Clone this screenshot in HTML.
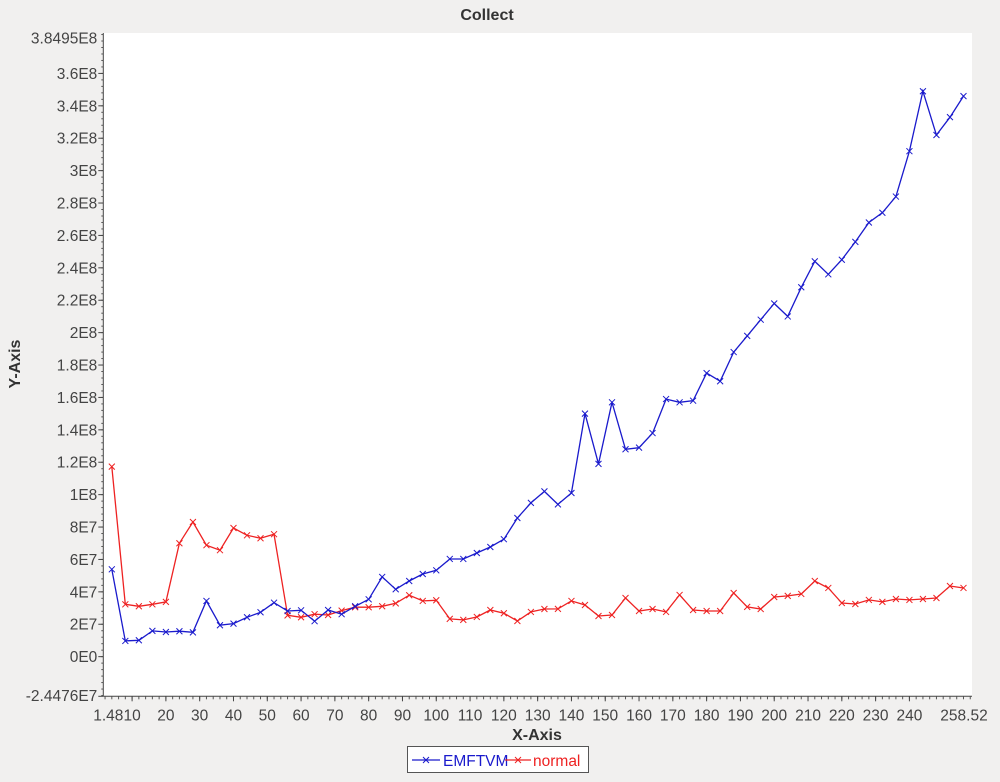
<!DOCTYPE html>
<html><head><meta charset="utf-8"><style>
body{margin:0;background:#f1f0ef;width:1000px;height:777px;overflow:hidden}
svg{font-family:"Liberation Sans","DejaVu Sans",sans-serif}
</style></head><body>
<svg id="chart" width="1000" height="777" xmlns="http://www.w3.org/2000/svg">
<rect x="0" y="0" width="1000" height="777" fill="#f1f0ef"/>
<rect x="103.3" y="33" width="868.7" height="663.3" fill="#ffffff"/>
<text x="487" y="20" text-anchor="middle" font-size="16" font-weight="bold" fill="#333">Collect</text>
<text x="20" y="364" text-anchor="middle" font-size="16" font-weight="bold" fill="#333" transform="rotate(-90 20 364)">Y-Axis</text>
<text x="537" y="740" text-anchor="middle" font-size="16" font-weight="bold" fill="#333">X-Axis</text>
<g id="axes"></g>
<g id="series"></g>
<g>
<rect x="407.5" y="746.5" width="181" height="26" fill="#fff" stroke="#555"/>
<g>
<line x1="412" y1="760" x2="440" y2="760" stroke="#1a1acc" stroke-width="1.3"/>
<path d="M423,757 l6,6 M423,763 l6,-6" stroke="#1a1acc"/>
<text x="443" y="766" font-size="15.5" fill="#1a1acc">EMFTVM</text>
</g>
<g>
<line x1="505" y1="760" x2="531" y2="760" stroke="#ee2222" stroke-width="1.3"/>
<path d="M515,757 l6,6 M515,763 l6,-6" stroke="#ee2222"/>
<text x="533" y="766" font-size="15.5" fill="#ee2222">normal</text>
</g>
</g>
</svg>
<script>
const xValues=[];for(let i=1;i<=64;i++)xValues.push(4*i);
const emftvm=[5.39,0.97,1.01,1.59,1.52,1.57,1.50,3.44,1.94,2.04,2.43,2.74,3.33,2.82,2.86,2.19,2.88,2.62,3.11,3.54,4.92,4.16,4.67,5.10,5.33,6.03,6.03,6.40,6.77,7.25,8.56,9.49,10.2,9.4,10.1,15.0,11.9,15.7,12.8,12.9,13.8,15.9,15.7,15.8,17.5,17.0,18.8,19.8,20.8,21.8,21.0,22.8,24.4,23.6,24.5,25.6,26.8,27.4,28.4,31.2,34.9,32.2,33.3,34.6];
const normal=[11.73,3.23,3.11,3.23,3.38,7.0,8.31,6.88,6.57,7.94,7.49,7.31,7.56,2.55,2.43,2.62,2.57,2.84,3.05,3.05,3.11,3.29,3.79,3.44,3.48,2.33,2.27,2.45,2.88,2.68,2.20,2.76,2.94,2.95,3.44,3.19,2.51,2.57,3.62,2.82,2.94,2.76,3.81,2.88,2.82,2.82,3.93,3.07,2.94,3.68,3.75,3.87,4.67,4.24,3.31,3.25,3.5,3.38,3.56,3.5,3.56,3.62,4.36,4.24];
const yTicks=[0,2,4,6,8,10,12,14,16,18,20,22,24,26,28,30,32,34,36];
const yTickLabels=["0E0","2E7","4E7","6E7","8E7","1E8","1.2E8","1.4E8","1.6E8","1.8E8","2E8","2.2E8","2.4E8","2.6E8","2.8E8","3E8","3.2E8","3.4E8","3.6E8"];
const xTicks=[10,20,30,40,50,60,70,80,90,100,110,120,130,140,150,160,170,180,190,200,210,220,230,240];
const X0=1.48,X1=258.52,Y0=-2.4476,Y1=38.495;
const L=103.3,R=972,T=33,B=696.3;
const NS="http://www.w3.org/2000/svg";
function sx(v){return L+(v-X0)/(X1-X0)*(R-L);}
function sy(v){return B-(v-Y0)/(Y1-Y0)*(B-T);}
function mk(tag,attrs,parent){const e=document.createElementNS(NS,tag);for(const k in attrs)e.setAttribute(k,attrs[k]);parent.appendChild(e);return e;}
const axes=document.getElementById('axes');
const ya=mk('line',{x1:L,y1:T,x2:L,y2:B,stroke:'#444'},axes);


const xa=mk('line',{x1:L,y1:B,x2:R,y2:B,stroke:'#444'},axes);


for(let v=-2.4;v<=38.4;v+=0.4){const y=sy(v);mk('line',{x1:L-2,y1:y,x2:L,y2:y,stroke:'#555'},axes);}
function ylabel(txt,y){const t=mk('text',{x:L-6,y:y+5.5,'text-anchor':'end','font-size':15.5,fill:'#444'},axes);t.textContent=txt;

}
yTicks.forEach((v,i)=>{const y=sy(v);mk('line',{x1:L-5,y1:y,x2:L,y2:y,stroke:'#444'},axes);ylabel(yTickLabels[i],y);});
ylabel("3.8495E8",T+5);ylabel("-2.4476E7",B-1);
mk('line',{x1:L-5,y1:B,x2:L,y2:B,stroke:'#444'},axes);
for(let v=2;v<=258;v+=2){const x=sx(v);mk('line',{x1:x,y1:B,x2:x,y2:B+3,stroke:'#555'},axes);}
function xlabel(txt,x){const t=mk('text',{x:x,y:B+24,'text-anchor':'middle','font-size':15.5,fill:'#444'},axes);t.textContent=txt;

}
xTicks.forEach(v=>{const x=sx(v);mk('line',{x1:x,y1:B,x2:x,y2:B+5,stroke:'#444'},axes);xlabel(String(v),x);});
xlabel("1.48",sx(X0)+5);xlabel("258.52",sx(X1)-8);
const g=document.getElementById('series');
function series(vals,color,name){
 const pts=vals.map((v,i)=>sx(xValues[i]).toFixed(1)+','+sy(v).toFixed(1)).join(' ');
 const pl=mk('polyline',{points:pts,fill:'none',stroke:color,'stroke-width':1.3},g);
 
 
 vals.forEach((v,i)=>{const x=sx(xValues[i]),y=sy(v);
  const m=mk('path',{d:`M${x-3},${y-3} l6,6 M${x-3},${y+3} l6,-6`,stroke:color,'stroke-width':1},g);
  
  
 });
}
series(normal,'#ee2222','normal');
series(emftvm,'#1a1acc','emftvm');
</script>
</body></html>
